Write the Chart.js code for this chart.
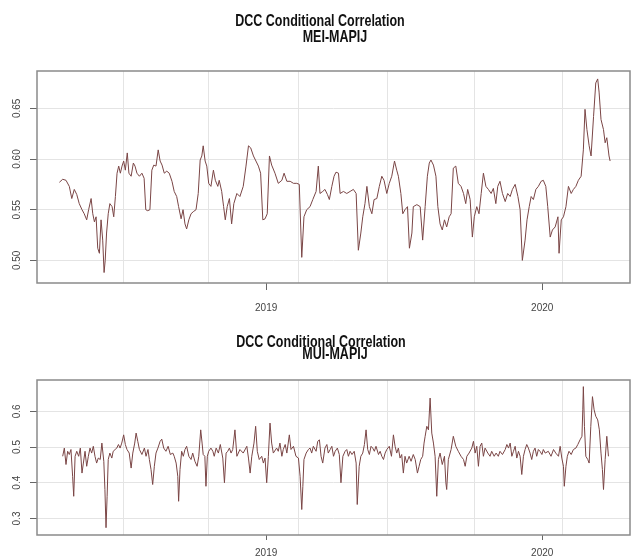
<!DOCTYPE html>
<html><head><meta charset="utf-8">
<script src="https://cdn.jsdelivr.net/npm/chart.js@4.4.1/dist/chart.umd.min.js"></script>
<style>
html,body{margin:0;padding:0;background:#fff;}
#w1{position:absolute;left:0;top:0;width:632px;height:320px;}
#w2{position:absolute;left:0;top:320px;width:632px;height:239px;}
</style></head><body>
<div id="w1"><canvas id="c1"></canvas></div>
<div id="w2"><canvas id="c2"></canvas></div>
<script>
// ---- data (decimal years / correlation values) ----
const meiTimes = [
2018.251,2018.263,2018.275,2018.287,2018.296,2018.305,2018.314,2018.323,2018.333,2018.341,
2018.350,2018.357,2018.366,2018.372,2018.378,2018.384,2018.390,2018.396,2018.402,2018.408,
2018.413,2018.417,2018.422,2018.428,2018.434,2018.442,2018.448,2018.454,2018.460,2018.466,
2018.472,2018.478,2018.484,2018.490,2018.497,2018.503,2018.511,2018.519,2018.525,2018.532,
2018.541,2018.550,2018.558,2018.564,2018.571,2018.579,2018.586,2018.593,2018.601,2018.609,
2018.616,2018.623,2018.631,2018.640,2018.649,2018.659,2018.667,2018.676,2018.683,2018.692,
2018.699,2018.706,2018.712,2018.720,2018.728,2018.736,2018.746,2018.754,2018.761,2018.767,
2018.772,2018.779,2018.785,2018.792,2018.800,2018.809,2018.816,2018.825,2018.830,2018.839,
2018.846,2018.852,2018.859,2018.867,2018.875,2018.883,2018.894,2018.905,2018.917,2018.927,
2018.936,2018.944,2018.954,2018.963,2018.972,2018.980,2018.988,2018.996,2019.004,2019.012,
2019.020,2019.032,2019.044,2019.057,2019.065,2019.075,2019.087,2019.099,2019.111,2019.120,
2019.129,2019.137,2019.147,2019.159,2019.169,2019.181,2019.189,2019.195,2019.205,2019.213,
2019.222,2019.229,2019.238,2019.246,2019.253,2019.262,2019.268,2019.280,2019.292,2019.304,
2019.316,2019.326,2019.334,2019.343,2019.350,2019.358,2019.365,2019.374,2019.383,2019.391,
2019.401,2019.410,2019.419,2019.427,2019.437,2019.446,2019.455,2019.465,2019.473,2019.479,
2019.488,2019.495,2019.503,2019.512,2019.519,2019.528,2019.533,2019.546,2019.558,2019.567,
2019.576,2019.584,2019.591,2019.597,2019.606,2019.615,2019.622,2019.630,2019.638,2019.646,
2019.654,2019.663,2019.670,2019.678,2019.687,2019.696,2019.706,2019.715,2019.723,2019.730,
2019.739,2019.747,2019.754,2019.763,2019.771,2019.779,2019.787,2019.796,2019.805,2019.815,
2019.823,2019.832,2019.839,2019.847,2019.856,2019.866,2019.875,2019.884,2019.892,2019.902,
2019.912,2019.920,2019.928,2019.938,2019.945,2019.953,2019.960,2019.968,2019.977,2019.986,
2019.996,2020.004,2020.013,2020.020,2020.029,2020.037,2020.047,2020.057,2020.061,2020.069,
2020.077,2020.086,2020.095,2020.105,2020.113,2020.122,2020.131,2020.141,2020.149,2020.155,
2020.162,2020.170,2020.177,2020.186,2020.194,2020.201,2020.206,2020.213,2020.222,2020.228,
2020.234,2020.242,2020.246];
const meiValues = [
0.577,0.580,0.579,0.573,0.561,0.570,0.565,0.556,0.550,0.546,
0.540,0.550,0.561,0.546,0.538,0.543,0.512,0.507,0.540,0.520,
0.488,0.500,0.527,0.546,0.556,0.553,0.543,0.563,0.586,0.593,
0.586,0.593,0.598,0.589,0.606,0.586,0.583,0.596,0.593,0.586,
0.583,0.586,0.581,0.550,0.549,0.550,0.589,0.594,0.593,0.609,
0.598,0.594,0.586,0.588,0.586,0.578,0.568,0.563,0.553,0.541,
0.550,0.536,0.531,0.540,0.546,0.548,0.550,0.566,0.599,0.603,
0.613,0.598,0.593,0.576,0.573,0.589,0.579,0.573,0.579,0.568,
0.553,0.540,0.553,0.561,0.536,0.556,0.566,0.563,0.573,0.593,
0.613,0.611,0.603,0.598,0.593,0.586,0.540,0.541,0.546,0.603,
0.594,0.586,0.576,0.579,0.586,0.578,0.578,0.576,0.576,0.575,
0.503,0.543,0.550,0.553,0.560,0.568,0.593,0.566,0.568,0.570,
0.565,0.560,0.573,0.583,0.587,0.586,0.566,0.568,0.566,0.568,
0.570,0.566,0.510,0.527,0.543,0.556,0.573,0.553,0.546,0.560,
0.561,0.573,0.583,0.579,0.566,0.576,0.583,0.598,0.589,0.583,
0.566,0.546,0.550,0.553,0.512,0.527,0.553,0.555,0.553,0.520,
0.553,0.583,0.596,0.599,0.594,0.583,0.553,0.536,0.530,0.540,
0.533,0.543,0.546,0.591,0.593,0.576,0.573,0.566,0.556,0.570,
0.560,0.523,0.543,0.553,0.546,0.566,0.586,0.573,0.570,0.566,
0.571,0.556,0.573,0.578,0.566,0.558,0.566,0.563,0.570,0.575,
0.563,0.550,0.500,0.520,0.540,0.553,0.563,0.560,0.570,0.573,
0.578,0.579,0.573,0.553,0.523,0.530,0.533,0.543,0.507,0.540,
0.543,0.553,0.573,0.566,0.570,0.573,0.579,0.583,0.609,0.649,
0.629,0.613,0.603,0.642,0.675,0.679,0.666,0.639,0.629,0.616,
0.621,0.603,0.598];

const muiTimes = [
2018.263,2018.269,2018.275,2018.281,2018.287,2018.293,2018.299,2018.303,2018.308,2018.314,
2018.321,2018.327,2018.333,2018.338,2018.344,2018.350,2018.356,2018.362,2018.368,2018.374,
2018.380,2018.386,2018.392,2018.399,2018.405,2018.412,2018.416,2018.420,2018.424,2018.428,
2018.434,2018.441,2018.446,2018.453,2018.459,2018.465,2018.471,2018.477,2018.484,2018.490,
2018.496,2018.504,2018.511,2018.517,2018.524,2018.529,2018.535,2018.541,2018.550,2018.559,
2018.565,2018.572,2018.577,2018.583,2018.589,2018.595,2018.601,2018.608,2018.616,2018.622,
2018.629,2018.637,2018.645,2018.653,2018.662,2018.667,2018.674,2018.680,2018.683,2018.688,
2018.694,2018.700,2018.706,2018.712,2018.720,2018.728,2018.734,2018.742,2018.750,2018.756,
2018.763,2018.768,2018.772,2018.778,2018.782,2018.787,2018.792,2018.800,2018.807,2018.812,
2018.819,2018.827,2018.834,2018.843,2018.849,2018.855,2018.861,2018.867,2018.873,2018.879,
2018.887,2018.894,2018.905,2018.917,2018.930,2018.936,2018.942,2018.948,2018.956,2018.962,
2018.968,2018.975,2018.984,2018.990,2018.996,2019.002,2019.008,2019.014,2019.020,2019.026,
2019.038,2019.044,2019.050,2019.057,2019.062,2019.069,2019.075,2019.084,2019.090,2019.099,
2019.108,2019.117,2019.123,2019.129,2019.133,2019.137,2019.145,2019.153,2019.159,2019.165,
2019.171,2019.181,2019.187,2019.193,2019.199,2019.205,2019.213,2019.220,2019.225,2019.232,
2019.238,2019.244,2019.250,2019.258,2019.265,2019.271,2019.278,2019.286,2019.292,2019.298,
2019.304,2019.311,2019.319,2019.326,2019.330,2019.337,2019.343,2019.350,2019.356,2019.362,
2019.368,2019.374,2019.380,2019.386,2019.392,2019.398,2019.407,2019.413,2019.419,2019.425,
2019.431,2019.437,2019.446,2019.454,2019.461,2019.467,2019.473,2019.479,2019.485,2019.491,
2019.497,2019.503,2019.509,2019.518,2019.525,2019.533,2019.540,2019.548,2019.554,2019.560,
2019.567,2019.572,2019.576,2019.582,2019.588,2019.594,2019.600,2019.606,2019.612,2019.618,
2019.624,2019.630,2019.638,2019.646,2019.651,2019.654,2019.660,2019.670,2019.678,2019.687,
2019.696,2019.706,2019.715,2019.721,2019.727,2019.735,2019.745,2019.751,2019.757,2019.763,
2019.769,2019.775,2019.781,2019.787,2019.793,2019.803,2019.811,2019.817,2019.826,2019.833,
2019.841,2019.847,2019.856,2019.866,2019.872,2019.878,2019.884,2019.890,2019.896,2019.902,
2019.908,2019.914,2019.920,2019.926,2019.932,2019.938,2019.944,2019.950,2019.956,2019.962,
2019.968,2019.974,2019.980,2019.986,2019.992,2019.999,2020.004,2020.011,2020.022,2020.032,
2020.041,2020.049,2020.059,2020.065,2020.071,2020.077,2020.080,2020.086,2020.091,2020.097,
2020.105,2020.113,2020.122,2020.129,2020.137,2020.144,2020.147,2020.149,2020.153,2020.158,
2020.165,2020.170,2020.176,2020.182,2020.188,2020.194,2020.201,2020.207,2020.213,2020.218,
2020.222,2020.228,2020.234,2020.240];
const muiValues = [
0.474,0.497,0.451,0.488,0.479,0.493,0.418,0.362,0.474,0.488,
0.474,0.497,0.427,0.455,0.488,0.446,0.474,0.497,0.483,0.502,
0.474,0.455,0.469,0.465,0.511,0.460,0.381,0.274,0.362,0.465,
0.483,0.469,0.488,0.493,0.497,0.507,0.497,0.511,0.534,0.507,
0.493,0.483,0.441,0.483,0.511,0.539,0.516,0.493,0.479,0.497,
0.474,0.493,0.465,0.437,0.395,0.446,0.483,0.497,0.516,0.522,
0.497,0.488,0.502,0.479,0.483,0.474,0.455,0.418,0.348,0.437,
0.488,0.474,0.493,0.502,0.474,0.465,0.483,0.460,0.446,0.474,
0.548,0.511,0.479,0.474,0.390,0.474,0.488,0.497,0.488,0.474,
0.497,0.483,0.507,0.469,0.400,0.483,0.488,0.497,0.483,0.493,
0.548,0.474,0.493,0.483,0.502,0.469,0.427,0.474,0.511,0.558,
0.488,0.465,0.474,0.455,0.469,0.400,0.474,0.567,0.511,0.483,
0.497,0.488,0.511,0.474,0.493,0.507,0.483,0.534,0.493,0.502,
0.474,0.469,0.418,0.325,0.390,0.465,0.483,0.493,0.497,0.483,
0.502,0.488,0.516,0.520,0.474,0.455,0.497,0.507,0.483,0.493,
0.502,0.474,0.488,0.497,0.479,0.400,0.474,0.488,0.493,0.474,
0.488,0.479,0.488,0.455,0.339,0.446,0.474,0.483,0.507,0.548,
0.493,0.479,0.502,0.497,0.488,0.502,0.479,0.488,0.474,0.465,
0.483,0.493,0.502,0.474,0.534,0.502,0.483,0.497,0.469,0.479,
0.427,0.474,0.455,0.474,0.460,0.479,0.465,0.427,0.446,0.465,
0.474,0.511,0.530,0.558,0.548,0.637,0.539,0.511,0.474,0.362,
0.465,0.483,0.451,0.474,0.400,0.381,0.465,0.493,0.530,0.502,
0.488,0.474,0.465,0.446,0.474,0.483,0.497,0.516,0.483,0.502,
0.446,0.502,0.511,0.474,0.497,0.483,0.474,0.488,0.474,0.483,
0.474,0.488,0.479,0.493,0.507,0.497,0.511,0.474,0.488,0.502,
0.469,0.488,0.474,0.423,0.474,0.493,0.507,0.497,0.483,0.465,
0.488,0.497,0.474,0.493,0.488,0.479,0.493,0.483,0.488,0.474,
0.493,0.483,0.474,0.502,0.469,0.446,0.390,0.446,0.474,0.488,
0.479,0.493,0.497,0.507,0.520,0.530,0.604,0.669,0.558,0.474,
0.465,0.455,0.558,0.641,0.604,0.586,0.576,0.548,0.483,0.437,
0.381,0.465,0.530,0.474];

const meiYTicks = [0.50, 0.55, 0.60, 0.65];
const meiYLabels = ['0.50', '0.55', '0.60', '0.65'];
const muiYTicks = [0.3, 0.4, 0.5, 0.6];
const muiYLabels = ['0.3', '0.4', '0.5', '0.6'];
const xTickYears = [2019, 2020];
const xTickLabels = ['2019', '2020'];
const gridYears = [2018.482, 2018.790, 2019.116, 2019.438, 2019.753, 2020.072];
const titleMain = 'DCC Conditional Correlation';
const pairNames = ['MEI-MAPIJ', 'MUI-MAPIJ'];

// ---- helpers ----
const LINE_COLOR = '#7a4545';
const GRID_COLOR = '#e4e4e4';
const TICK_COLOR = '#666';
const TEXT_COLOR = '#444';
const FONT = "'Liberation Sans', Arial, sans-serif";

const framePlugin = {
  id: 'frame',
  afterDatasetsDraw(chart, args, o) {
    const {ctx, chartArea: a} = chart;
    ctx.save();
    ctx.strokeStyle = o.color;
    ctx.lineWidth = o.width;
    ctx.strokeRect(a.left, a.top, a.right - a.left, a.bottom - a.top);
    ctx.restore();
  }
};
const titlePlugin = {
  id: 'rtitle',
  afterDraw(chart, args, o) {
    const ctx = chart.ctx;
    ctx.save();
    ctx.fillStyle = '#111';
    ctx.font = o.font;
    ctx.textAlign = 'center';
    ctx.textBaseline = 'middle';
    o.lines.forEach(l => {
      ctx.save();
      ctx.translate(l.x, l.y);
      ctx.scale(1, o.stretch);
      ctx.fillText(l.text, 0, 0);
      ctx.restore();
    });
    ctx.restore();
  }
};

function makeChart(id, c) {
  const pts = c.times.map((t, i) => ({x: t, y: c.values[i]}));
  return new Chart(document.getElementById(id), {
    type: 'line',
    data: {datasets: [{data: pts, borderColor: LINE_COLOR, borderWidth: 1,
      pointRadius: 0, tension: 0, fill: false}]},
    plugins: [framePlugin, titlePlugin],
    options: {
      responsive: true, maintainAspectRatio: false, animation: false,
      layout: {padding: {left: 0, right: 2, top: c.padTop, bottom: 0}},
      plugins: {
        legend: {display: false}, tooltip: {enabled: false}, title: {display: false},
        frame: {color: '#8a8a8a', width: 1.5},
        rtitle: {font: 'bold 12.5px ' + FONT, stretch: 1.25, lines: c.titleLines}
      },
      scales: {
        x: {
          type: 'linear', position: 'bottom', min: 2018.170, max: 2020.318,
          afterBuildTicks: s => { s.ticks = xTickYears.map(v => ({value: v})); },
          afterFit: s => { s.height = c.xAxisHeight; },
          ticks: {autoSkip: false, maxRotation: 0, minRotation: 0, padding: c.xPad,
            color: TEXT_COLOR, font: {family: FONT, size: 10},
            callback: (v, i) => xTickLabels[i]},
          grid: {drawOnChartArea: false, drawTicks: true, tickLength: c.xTickLen, tickColor: TICK_COLOR},
          border: {display: false}
        },
        xg: {
          type: 'linear', position: 'top', min: 2018.170, max: 2020.318,
          afterBuildTicks: s => { s.ticks = gridYears.map(v => ({value: v})); },
          afterFit: s => { s.height = 0; },
          ticks: {display: false},
          grid: {drawTicks: false, color: GRID_COLOR, lineWidth: 1},
          border: {display: false}
        },
        y: {
          min: c.yMin, max: c.yMax,
          afterBuildTicks: s => { s.ticks = c.yTicks.map(v => ({value: v})); },
          afterFit: s => { s.width = 37; },
          ticks: {minRotation: 90, maxRotation: 90, crossAlign: 'center', padding: c.yPad,
            color: TEXT_COLOR, font: {family: FONT, size: 10},
            callback: (v, i) => c.yLabels[i]},
          grid: {color: GRID_COLOR, tickLength: 7, tickColor: TICK_COLOR},
          border: {display: false}
        }
      }
    }
  });
}

makeChart('c1', {
  times: meiTimes, values: meiValues, yMin: 0.4777, yMax: 0.6868,
  yTicks: meiYTicks, yLabels: meiYLabels, yPad: 3,
  padTop: 71, xAxisHeight: 37, xTickLen: 7, xPad: 12,
  titleLines: [{text: titleMain, x: 320, y: 22}, {text: pairNames[0], x: 335, y: 38}]
});
makeChart('c2', {
  times: muiTimes, values: muiValues, yMin: 0.2536, yMax: 0.6876,
  yTicks: muiYTicks, yLabels: muiYLabels, yPad: 6,
  padTop: 60, xAxisHeight: 24, xTickLen: 5, xPad: 7,
  titleLines: [{text: titleMain, x: 321, y: 23}, {text: pairNames[1], x: 335, y: 35}]
});
</script>
</body></html>
